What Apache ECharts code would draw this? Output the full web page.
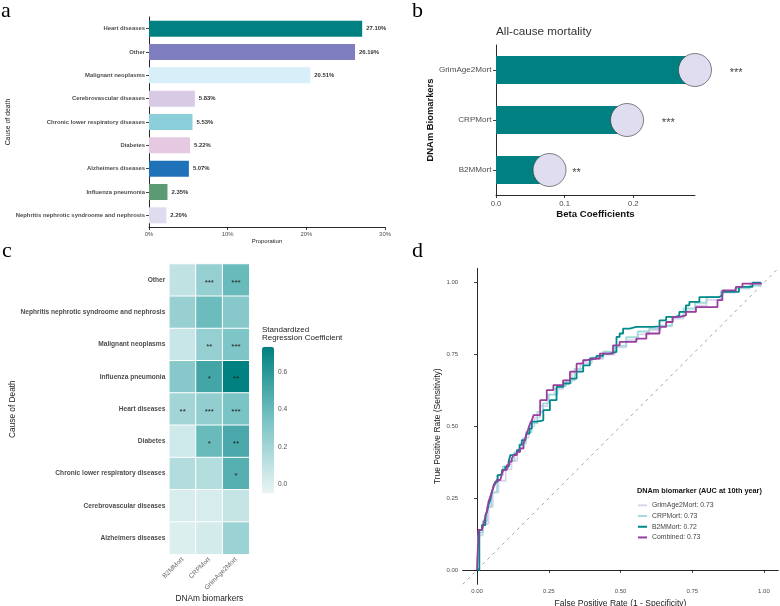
<!DOCTYPE html>
<html lang="en">
<head>
  <meta charset="utf-8" />
  <title>Cause of death and DNAm mortality biomarkers</title>
  <script src="https://cdn.jsdelivr.net/npm/echarts@6.0.0/dist/echarts.min.js"></script>
  <style>
    body {
      margin: 0;
      background-color: #fff;
    }
    #main {
      width: 780px;
      height: 606px;
    }
  </style>
</head>
<body>
<div id="main"></div>
<script type="text/javascript">
  // a: share of deaths by cause (top to bottom)
  let causes = ['Heart diseases', 'Other', 'Malignant neoplasms', 'Cerebrovascular diseases',
    'Chronic lower respiratory diseases', 'Diabetes', 'Alzheimers diseases', 'Influenza pneumonia',
    'Nephritis nephrotic syndroome and nephrosis']
  let shares = [27.10, 26.19, 20.51, 5.83, 5.53, 5.22, 5.07, 2.35, 2.20]
  let shareTicks = [0, 10, 20, 30]

  // b: all-cause mortality betas (bottom to top)
  let markers = ['B2MMort', 'CRPMort', 'GrimAge2Mort']
  let betas = [0.078, 0.191, 0.29]
  let betaStars = ['**', '***', '***']
  let betaTicks = [0, 0.1, 0.2]

  // c: standardized coefficients, rows top to bottom
  let heatRows = ['Other', 'Nephritis nephrotic syndroome and nephrosis', 'Malignant neoplasms',
    'Influenza pneumonia', 'Heart diseases', 'Diabetes', 'Chronic lower respiratory diseases',
    'Cerebrovascular diseases', 'Alzheimers diseases']
  let heatCols = ['B2MMort', 'CRPMort', 'GrimAge2Mort']
  let b2mCoef = [0.10, 0.24, 0.07, 0.30, 0.20, 0.05, 0.15, 0.02, 0.00]
  let crpCoef = [0.25, 0.39, 0.25, 0.52, 0.26, 0.40, 0.14, 0.02, 0.03]
  let grimCoef = [0.40, 0.30, 0.33, 0.73, 0.34, 0.50, 0.46, 0.08, 0.23]
  let b2mStars = ['', '', '', '', '**', '', '', '', '']
  let crpStars = ['***', '', '**', '*', '***', '*', '', '', '']
  let grimStars = ['***', '', '***', '**', '***', '**', '*', '', '']
  let coefTicks = [0, 0.2, 0.4, 0.6]

  // d: ROC curves at 10th year
  let rocNames = ['GrimAge2Mort', 'CRPMort', 'B2MMort', 'Combined']
  let rocAuc = [0.73, 0.73, 0.72, 0.73]
  let grimFpr = [0, 0.005, 0.02, 0.04, 0.055, 0.075, 0.10, 0.12, 0.14, 0.16, 0.18, 0.20, 0.22, 0.245, 0.27,
    0.30, 0.33, 0.36, 0.40, 0.44, 0.48, 0.52, 0.56, 0.60, 0.64, 0.68, 0.72, 0.76, 0.80, 0.85, 0.90, 0.95, 0.99]
  let grimTpr = [0, 0.12, 0.16, 0.22, 0.27, 0.31, 0.35, 0.38, 0.42, 0.46, 0.50, 0.53, 0.57, 0.61, 0.63,
    0.65, 0.69, 0.72, 0.735, 0.75, 0.775, 0.80, 0.82, 0.835, 0.85, 0.875, 0.90, 0.92, 0.94, 0.965, 0.98, 0.995, 1.0]
  let crpFpr = [0, 0.006, 0.02, 0.035, 0.05, 0.07, 0.09, 0.11, 0.13, 0.15, 0.17, 0.19, 0.21, 0.23, 0.25,
    0.28, 0.31, 0.34, 0.37, 0.40, 0.44, 0.48, 0.52, 0.56, 0.60, 0.64, 0.68, 0.72, 0.76, 0.80, 0.85, 0.90, 0.95, 0.99]
  let crpTpr = [0, 0.13, 0.17, 0.22, 0.27, 0.33, 0.36, 0.38, 0.41, 0.44, 0.48, 0.51, 0.55, 0.58, 0.61,
    0.64, 0.66, 0.70, 0.73, 0.74, 0.76, 0.78, 0.81, 0.83, 0.84, 0.85, 0.88, 0.91, 0.93, 0.95, 0.97, 0.98, 0.99, 1.0]
  let b2mFpr = [0, 0.008, 0.012, 0.017, 0.029, 0.035, 0.040, 0.046, 0.052, 0.058, 0.064, 0.072, 0.079, 0.087,
    0.098, 0.110, 0.116, 0.127, 0.139, 0.148, 0.156, 0.168, 0.173, 0.183, 0.191, 0.208, 0.231, 0.254, 0.277,
    0.301, 0.324, 0.347, 0.370, 0.393, 0.416, 0.439, 0.462, 0.486, 0.497, 0.509, 0.532, 0.555, 0.613, 0.636,
    0.659, 0.694, 0.705, 0.728, 0.740, 0.763, 0.775, 0.844, 0.855, 0.913, 0.960, 0.99]
  let b2mTpr = [0, 0.139, 0.139, 0.156, 0.191, 0.203, 0.226, 0.243, 0.272, 0.295, 0.307, 0.330, 0.336, 0.348,
    0.359, 0.377, 0.400, 0.406, 0.417, 0.435, 0.452, 0.458, 0.475, 0.492, 0.516, 0.521, 0.556, 0.591, 0.637,
    0.649, 0.666, 0.690, 0.712, 0.736, 0.745, 0.753, 0.759, 0.811, 0.823, 0.840, 0.846, 0.846, 0.848, 0.869,
    0.881, 0.886, 0.898, 0.921, 0.933, 0.933, 0.950, 0.956, 0.968, 0.985, 1.0, 1.0]
  let cmbFpr = [0, 0.005, 0.017, 0.023, 0.029, 0.035, 0.040, 0.046, 0.052, 0.058, 0.064, 0.069, 0.081, 0.087,
    0.092, 0.104, 0.113, 0.121, 0.127, 0.139, 0.150, 0.162, 0.168, 0.173, 0.179, 0.185, 0.191, 0.197, 0.220,
    0.243, 0.266, 0.300, 0.324, 0.347, 0.370, 0.382, 0.416, 0.428, 0.451, 0.474, 0.497, 0.509, 0.555, 0.590,
    0.601, 0.636, 0.659, 0.682, 0.705, 0.728, 0.763, 0.838, 0.855, 0.902, 0.925, 0.99]
  let cmbTpr = [0, 0.139, 0.139, 0.162, 0.185, 0.209, 0.238, 0.255, 0.272, 0.290, 0.301, 0.313, 0.315, 0.336,
    0.348, 0.365, 0.377, 0.388, 0.400, 0.411, 0.423, 0.440, 0.458, 0.475, 0.492, 0.510, 0.521, 0.539, 0.591,
    0.626, 0.643, 0.660, 0.690, 0.718, 0.730, 0.736, 0.736, 0.753, 0.753, 0.782, 0.794, 0.794, 0.805, 0.823,
    0.823, 0.846, 0.863, 0.881, 0.886, 0.898, 0.915, 0.939, 0.973, 0.985, 0.997, 1.0]
  let rocTicks = [0, 0.25, 0.5, 0.75, 1]
  let diagLine = [-0.05, 1.05]

  // styles
  let fontSans = 'Liberation Sans'
  let fontSerif = 'Liberation Serif'
  let causeColors = ['#008080', '#7f7fbf', '#d7eff9', '#d8c9e4', '#8bcfdb', '#e5c9e1', '#1f72b8', '#5b9a72', '#dfdcf0']
  let rocColors = ['#d9d4ee', '#a2d9d9', '#00898b', '#993d9e']
  let tealColor = '#008080'
  let axisColor = '#111'
  let tickTextColor = '#4d4d4d'

  let chart = echarts.init(document.getElementById('main'), null, { renderer: 'canvas' })

  function xyPairs(xs, ys) {
    return xs.map((x, i) => [x, ys[i]])
  }

  let heatData = []
  let heatCoefs = [b2mCoef, crpCoef, grimCoef]
  let heatStars = [b2mStars, crpStars, grimStars]
  heatCols.forEach((col, c) => {
    heatRows.forEach((row, r) => {
      heatData.push([c, r, heatCoefs[c][r], heatStars[c][r]])
    })
  })

  let classicLine = { show: true, lineStyle: { color: axisColor, width: 0.9 } }
  let classicTick = { show: true, length: 3, lineStyle: { color: axisColor, width: 0.8 } }

  function panelTitle(text, left, top) {
    return {
      text: text, left: left, top: top, padding: 0,
      textStyle: { fontFamily: fontSerif, fontSize: 22, fontWeight: 'normal', color: '#000' }
    }
  }

  let option = {
    animation: false,
    backgroundColor: '#fff',
    textStyle: { fontFamily: fontSans },
    title: [
      panelTitle('a', 1, 0),
      panelTitle('b', 412, 0),
      panelTitle('c', 2, 240),
      panelTitle('d', 412, 240),
      {
        text: 'All-cause mortality', left: 496, top: 26, padding: 0,
        textStyle: { fontFamily: fontSans, fontSize: 11.7, fontWeight: 'normal', color: '#333' }
      },
      {
        text: 'Standardized\nRegression Coefficient', left: 262, top: 326, padding: 0,
        textStyle: { fontFamily: fontSans, fontSize: 8, lineHeight: 8, fontWeight: 'normal', color: '#222' }
      },
      {
        text: 'DNAm biomarker (AUC at 10th year)', left: 637, top: 487.5, padding: 0,
        textStyle: { fontFamily: fontSans, fontSize: 7.3, fontWeight: 'bold', color: '#111' }
      }
    ],
    grid: [
      { left: 149, top: 17, width: 236, height: 210, outerBoundsMode: 'none' },
      { left: 496, top: 45, width: 199, height: 150, outerBoundsMode: 'none' },
      { left: 169.3, top: 264, width: 80, height: 290.3, outerBoundsMode: 'none' },
      { left: 262, top: 346.7, width: 12, height: 146.6, outerBoundsMode: 'none' },
      { left: 462.7, top: 268.3, width: 315.6, height: 316, outerBoundsMode: 'none' }
    ],
    xAxis: [
      {
        gridIndex: 0, type: 'value', min: 0, max: 30, interval: 10,
        axisLine: classicLine, axisTick: classicTick, splitLine: { show: false },
        axisLabel: { formatter: '{value}%', fontSize: 5.9, color: tickTextColor, margin: 4,
          customValues: shareTicks },
        name: 'Proporation', nameLocation: 'middle', nameGap: 6,
        nameTextStyle: { fontSize: 5.9, color: '#222' }
      },
      {
        gridIndex: 1, type: 'value', min: 0, max: 0.29,
        axisLine: classicLine, axisTick: Object.assign({ customValues: betaTicks }, classicTick),
        splitLine: { show: false },
        axisLabel: { fontSize: 7.7, color: tickTextColor, margin: 5, customValues: betaTicks,
          formatter: v => v.toFixed(1) },
        name: 'Beta Coefficients', nameLocation: 'middle', nameGap: 13.5,
        nameTextStyle: { fontSize: 9.6, fontWeight: 'bold', color: '#111' }
      },
      {
        gridIndex: 2, type: 'category', data: heatCols,
        axisLine: { show: false }, axisTick: { show: false }, splitLine: { show: false },
        axisLabel: { rotate: 45, fontSize: 6.6, color: '#666', margin: 4 },
        name: 'DNAm biomarkers', nameLocation: 'middle', nameGap: 40,
        nameTextStyle: { fontSize: 8.3, color: '#222' }
      },
      {
        gridIndex: 3, type: 'value', min: 0, max: 1, show: false
      },
      {
        gridIndex: 4, type: 'value', min: diagLine[0], max: diagLine[1],
        axisLine: classicLine, axisTick: Object.assign({ customValues: rocTicks }, classicTick),
        splitLine: { show: false },
        axisLabel: { fontSize: 6, color: tickTextColor, margin: 4, customValues: rocTicks,
          formatter: v => v.toFixed(2) },
        name: 'False Positive Rate (1 - Specificity)', nameLocation: 'middle', nameGap: 10,
        nameTextStyle: { fontSize: 8.5, color: '#222' }
      }
    ],
    yAxis: [
      {
        gridIndex: 0, type: 'category', data: causes, inverse: true,
        axisLine: classicLine, axisTick: Object.assign({ alignWithLabel: true }, classicTick),
        axisLabel: { fontSize: 5.9, fontWeight: 'bold', color: tickTextColor, margin: 4 },
        name: 'Cause of death', nameLocation: 'middle', nameGap: 131,
        nameTextStyle: { fontSize: 6.9, color: '#222' }
      },
      {
        gridIndex: 1, type: 'category', data: markers,
        axisLine: classicLine, axisTick: Object.assign({ alignWithLabel: true }, classicTick),
        axisLabel: { fontSize: 8.1, color: tickTextColor, margin: 4.5 },
        name: 'DNAm Biomarkers', nameLocation: 'middle', nameGap: 60,
        nameTextStyle: { fontSize: 9.4, fontWeight: 'bold', color: '#111' }
      },
      {
        gridIndex: 2, type: 'category', data: heatRows, inverse: true,
        axisLine: { show: false }, axisTick: { show: false }, splitLine: { show: false },
        axisLabel: { fontSize: 6.6, fontWeight: 'bold', color: tickTextColor, margin: 4 },
        name: 'Cause of Death', nameLocation: 'middle', nameGap: 152,
        nameTextStyle: { fontSize: 8.3, color: '#222' }
      },
      {
        gridIndex: 3, type: 'value', position: 'right', min: -0.048, max: 0.737,
        axisLine: { show: false }, splitLine: { show: false },
        axisTick: { show: true, inside: true, length: 2.5, customValues: coefTicks,
          lineStyle: { color: '#fff', width: 0.8 } },
        axisLabel: { fontSize: 6.6, color: tickTextColor, margin: 4, customValues: coefTicks,
          formatter: v => v.toFixed(1) }
      },
      {
        gridIndex: 4, type: 'value', min: diagLine[0], max: diagLine[1],
        axisLine: classicLine, axisTick: Object.assign({ customValues: rocTicks }, classicTick),
        splitLine: { show: false },
        axisLabel: { fontSize: 6, color: tickTextColor, margin: 4.5, customValues: rocTicks,
          formatter: v => v.toFixed(2) },
        name: 'True Positive Rate (Sensitivity)', nameLocation: 'middle', nameGap: 18,
        nameTextStyle: { fontSize: 8.5, color: '#222' }
      }
    ],
    visualMap: {
      type: 'continuous', seriesIndex: 3, dimension: 2,
      min: -0.048, max: 0.737, calculable: false, showLabel: false,
      left: 262, top: 346.7, itemWidth: 12, itemHeight: 146.6, padding: 0,
      inRange: { color: ['#eaf5f5', '#7ac3c5', '#008080'] }
    },
    legend: {
      data: rocNames, orient: 'vertical', left: 638, top: 501, padding: 0,
      icon: 'rect', itemWidth: 9, itemHeight: 2, itemGap: 2,
      formatter: name => name + ': ' + rocAuc[rocNames.indexOf(name)],
      textStyle: { fontSize: 6.85, lineHeight: 8.7, color: '#444' }
    },
    series: [
      {
        // a
        type: 'bar', xAxisIndex: 0, yAxisIndex: 0, barWidth: 16,
        data: shares.map((v, i) => ({ value: v, itemStyle: { color: causeColors[i] } })),
        label: {
          show: true, position: 'right', distance: 4, fontSize: 5.9, fontWeight: 'bold', color: '#333',
          formatter: p => p.value.toFixed(2) + '%'
        }
      },
      {
        // b bars
        type: 'bar', xAxisIndex: 1, yAxisIndex: 1, barWidth: 28,
        itemStyle: { color: tealColor }, data: betas
      },
      {
        // b circles with significance stars
        type: 'scatter', xAxisIndex: 1, yAxisIndex: 1, clip: false, symbolSize: 33,
        itemStyle: { color: '#e0ddf0', borderColor: '#333', borderWidth: 0.6, opacity: 1 },
        data: betas.map((v, i) => ({
          value: [v, markers[i]],
          label: { distance: i === 0 ? 6 : 18 }
        })),
        label: {
          show: true, position: 'right', fontSize: 11, color: '#444', offset: [0, 3.2],
          formatter: p => betaStars[p.dataIndex]
        }
      },
      {
        // c heatmap
        type: 'heatmap', xAxisIndex: 2, yAxisIndex: 2, data: heatData,
        itemStyle: { borderColor: '#fff', borderWidth: 1 },
        label: {
          show: true, fontSize: 8, color: '#222', offset: [0, 2.4],
          formatter: p => p.data[3]
        },
        emphasis: { disabled: true }
      },
      ...[[grimFpr, grimTpr], [crpFpr, crpTpr], [b2mFpr, b2mTpr], [cmbFpr, cmbTpr]].map((xy, k) => ({
        name: rocNames[k], type: 'line', xAxisIndex: 4, yAxisIndex: 4, step: 'end',
        showSymbol: false, symbol: 'none', color: rocColors[k],
        lineStyle: { width: 1.8, color: rocColors[k] },
        data: xyPairs(xy[0], xy[1])
      })),
      {
        name: 'chance', type: 'line', xAxisIndex: 4, yAxisIndex: 4, showSymbol: false, symbol: 'none',
        z: 1, lineStyle: { color: '#8c8c8c', width: 0.8, type: [3, 4] },
        data: xyPairs(diagLine, diagLine)
      }
    ]
  }

  chart.setOption(option)
</script>
</body>
</html>
